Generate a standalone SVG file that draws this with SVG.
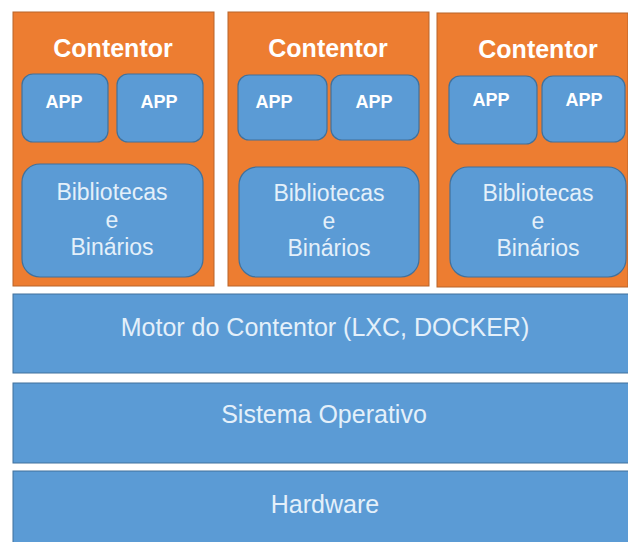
<svg xmlns="http://www.w3.org/2000/svg" width="628" height="542" viewBox="0 0 628 542">
  <style>
    .cont { fill: #ED7D31; stroke: #B8652A; stroke-width: 1; }
    .box { fill: #5B9BD5; stroke: #41719C; stroke-width: 1.2; }
    .layer { fill: #5B9BD5; stroke: #41719C; stroke-width: 1; }
    text { font-family: "Liberation Sans", Arial, sans-serif; text-anchor: middle; }
    .title { font-size: 25px; font-weight: bold; fill: #FFFFFF; }
    .app { font-size: 18px; font-weight: bold; fill: #FFFFFF; }
    .lib { font-size: 23px; fill: #E4F0FA; }
    .big { font-size: 25px; fill: #E4F0FA; }
  </style>
  <rect width="628" height="542" fill="#FFFFFF"/>

  <!-- Container 1 -->
  <g id="container1">
    <rect class="cont" x="13" y="12" width="201" height="274"/>
    <text class="title" x="113" y="57">Contentor</text>
    <rect class="box" x="22" y="74" width="86" height="68" rx="11"/>
    <text class="app" x="64" y="108">APP</text>
    <rect class="box" x="117" y="74" width="86" height="68" rx="11"/>
    <text class="app" x="159" y="108">APP</text>
    <rect class="box" x="22" y="164" width="181" height="113" rx="18"/>
    <text class="lib" x="112" y="200">Bibliotecas</text>
    <text class="lib" x="112" y="228">e</text>
    <text class="lib" x="112" y="255">Binários</text>
  </g>

  <!-- Container 2 -->
  <g id="container2">
    <rect class="cont" x="228" y="12" width="201" height="274"/>
    <text class="title" x="328" y="57">Contentor</text>
    <rect class="box" x="238" y="75" width="89" height="65" rx="11"/>
    <text class="app" x="274" y="108">APP</text>
    <rect class="box" x="331" y="75" width="88" height="65" rx="11"/>
    <text class="app" x="374" y="108">APP</text>
    <rect class="box" x="239" y="167" width="180" height="110" rx="18"/>
    <text class="lib" x="329" y="201">Bibliotecas</text>
    <text class="lib" x="329" y="229">e</text>
    <text class="lib" x="329" y="256">Binários</text>
  </g>

  <!-- Container 3 -->
  <g id="container3">
    <rect class="cont" x="437" y="13" width="191" height="274"/>
    <text class="title" x="538" y="58">Contentor</text>
    <rect class="box" x="449" y="76" width="88" height="68" rx="11"/>
    <text class="app" x="491" y="106">APP</text>
    <rect class="box" x="542" y="76" width="83" height="66" rx="11"/>
    <text class="app" x="584" y="106">APP</text>
    <rect class="box" x="450" y="167" width="176" height="110" rx="18"/>
    <text class="lib" x="538" y="201">Bibliotecas</text>
    <text class="lib" x="538" y="229">e</text>
    <text class="lib" x="538" y="256">Binários</text>
  </g>

  <!-- Engine / OS / Hardware layers -->
  <g id="engine">
    <rect class="layer" x="13" y="294" width="616" height="79"/>
    <text class="big" x="325" y="336">Motor do Contentor (LXC, DOCKER)</text>
  </g>
  <g id="os">
    <rect class="layer" x="13" y="383" width="616" height="80"/>
    <text class="big" x="324" y="423">Sistema Operativo</text>
  </g>
  <g id="hardware">
    <rect class="layer" x="13" y="471" width="616" height="75"/>
    <text class="big" x="325" y="513">Hardware</text>
  </g>

  <g id="connectors"/>
</svg>
